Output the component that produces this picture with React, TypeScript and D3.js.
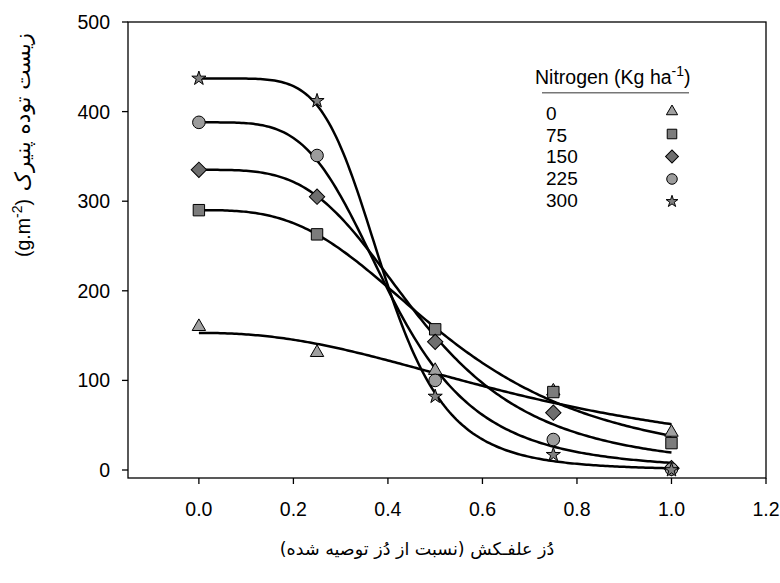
import React from "react";
import * as d3 from "d3";

// ---- data ----
const doseLevels = [0, 0.25, 0.5, 0.75, 1.0];
const nitrogenLabels = ["0", "75", "150", "225", "300"];
const biomassN0 = [160, 131, 111, 88, 42];
const biomassN75 = [290, 263, 157, 87, 30];
const biomassN150 = [335, 305, 143, 64, 2];
const biomassN225 = [388, 351, 100, 34, 1];
const biomassN300 = [437, 412, 82, 17, 0];
// fitted log-logistic curves: y = d / (1 + (x/e)^b)
const fitUpper = [153, 290, 335, 388, 437];
const fitSlope = [2.26, 3.0, 3.7, 4.3, 5.8];
const fitED50 = [0.737, 0.533, 0.471, 0.407, 0.392];
const xTicks = [0, 0.2, 0.4, 0.6, 0.8, 1.0, 1.2];
const yTicks = [0, 100, 200, 300, 400, 500];

const seriesValues = [biomassN0, biomassN75, biomassN150, biomassN225, biomassN300];
const symbolTypes = ["triangle", "square", "diamond", "circle", "star"];
const fills = ["#a0a0a0", "#7c7c7c", "#6e6e6e", "#9c9c9c", "#808080"];

const W = 780;
const H = 583;
const left = 128, right = 766, top = 22, bottom = 478;
const FONT = "'Liberation Sans', Arial, sans-serif";
const FA = "'DejaVu Sans', sans-serif";

const x = d3.scaleLinear().domain([-0.15, 1.2]).range([left, right]);
const y = d3.scaleLinear().domain([0, 500]).range([470, 22]);

function symbolPath(kind: string, scale: number) {
  let p: string | null = null;
  if (kind === "triangle") p = d3.symbol(d3.symbolTriangle, 78 * scale)();
  else if (kind === "square") p = d3.symbol(d3.symbolSquare, 130 * scale)();
  else if (kind === "diamond") p = d3.symbol(d3.symbolSquare, 118 * scale)();
  else if (kind === "circle") p = d3.symbol(d3.symbolCircle, 125 * scale)();
  else p = d3.symbol(d3.symbolStar, 62 * scale)();
  return p || "";
}

function Marker({ kind, cx, cy, fill, scale }: any) {
  const rot = kind === "diamond" ? " rotate(45)" : "";
  return (
    <path
      d={symbolPath(kind, scale)}
      transform={`translate(${cx},${cy})${rot}`}
      fill={fill}
      stroke="#000"
      strokeWidth={1}
    />
  );
}

export default function App() {
  const samples = d3.range(0, 1.0001, 0.005);
  const line = d3
    .line<number[]>()
    .x((d) => x(d[0]))
    .y((d) => y(d[1]))
    .curve(d3.curveLinear);

  const curves = fitUpper.map((d, i) =>
    line(samples.map((t) => [t, t === 0 ? d : d / (1 + Math.pow(t / fitED50[i], fitSlope[i]))]))
  );

  return (
    <svg
      width={W}
      height={H}
      viewBox={`0 0 ${W} ${H}`}
      style={{ position: "absolute", left: 0, top: 0, background: "#fff" }}
    >
      <rect x={0} y={0} width={W} height={H} fill="#fff" />
      {/* frame */}
      <rect x={left} y={top} width={right - left} height={bottom - top} fill="none" stroke="#000" strokeWidth={1.3} />
      {/* y ticks */}
      {yTicks.map((t) => (
        <g key={"y" + t}>
          <line x1={left - 6} x2={left} y1={y(t)} y2={y(t)} stroke="#000" strokeWidth={1.3} />
          <text x={110} y={y(t)} dy="0.36em" textAnchor="end" fontFamily={FONT} fontSize={19.5} fill="#000">
            {t}
          </text>
        </g>
      ))}
      {/* x ticks */}
      {xTicks.map((t) => (
        <g key={"x" + t}>
          <line x1={x(t)} x2={x(t)} y1={bottom} y2={bottom + 6} stroke="#000" strokeWidth={1.3} />
          <text x={x(t)} y={516} textAnchor="middle" fontFamily={FONT} fontSize={19.5} fill="#000">
            {t.toFixed(1)}
          </text>
        </g>
      ))}
      {/* curves */}
      {curves.map((c, i) => (
        <path key={"c" + i} d={c || ""} fill="none" stroke="#000" strokeWidth={2.5} />
      ))}
      {/* markers */}
      {seriesValues.map((vals, i) =>
        vals.map((v, j) => (
          <Marker key={`m${i}-${j}`} kind={symbolTypes[i]} cx={x(doseLevels[j])} cy={y(v)} fill={fills[i]} scale={1} />
        ))
      )}
      {/* legend */}
      <text x={535} y={84} fontFamily={FONT} fontSize={19.5} fill="#000">
        Nitrogen (Kg ha
        <tspan dy={-8} fontSize={14}>-1</tspan>
        <tspan dy={8}>)</tspan>
      </text>
      <line x1={542} x2={689} y1={92.7} y2={92.7} stroke="#777" strokeWidth={1.4} />
      {nitrogenLabels.map((lab, i) => (
        <g key={"l" + i}>
          <text x={546} y={120 + i * 21.7} fontFamily={FONT} fontSize={19} fill="#000">
            {lab}
          </text>
          <Marker kind={symbolTypes[i]} cx={672} cy={111.5 + i * 22.5} fill={fills[i]} scale={0.7} />
        </g>
      ))}
      {/* y axis title */}
      <g transform="translate(30,0) rotate(-90)">
        <text x={-33} y={0} textAnchor="end" fontFamily={FA} fontSize={21.5} fill="#000">
          زیست توده پنیرک
        </text>
        <text x={-257} y={0} textAnchor="start" fontFamily={FONT} fontSize={19.5} fill="#000">
          (g.m
          <tspan dy={-8} fontSize={14}>-2</tspan>
          <tspan dy={8}>)</tspan>
        </text>
      </g>
      {/* x axis title */}
      <text x={417} y={555} textAnchor="middle" fontFamily={FA} fontSize={17.5} fill="#000">
        دُز علفـکش (نسبت از دُز توصیه شده)
      </text>
    </svg>
  );
}
